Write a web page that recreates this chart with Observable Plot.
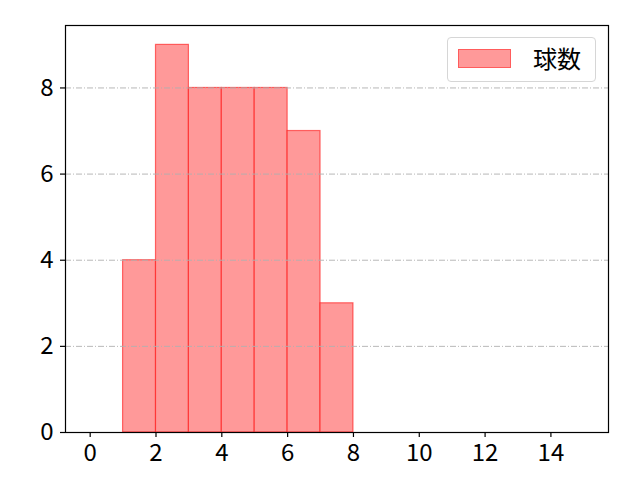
<!DOCTYPE html>
<html>
<head>
<meta charset="utf-8">
<script src="https://cdn.jsdelivr.net/npm/d3@7"></script>
<script src="https://cdn.jsdelivr.net/npm/@observablehq/plot@0.6"></script>
<style>
  html, body { margin: 0; padding: 0; background: #fff; }
  #wrap { position: relative; width: 640px; height: 480px; font-family: "Noto Sans CJK JP", "Noto Sans", sans-serif; }
  #legend { position: absolute; left: 447px; top: 37px; width: 149px; height: 45px; border: 1px solid #d6d6d6; border-radius: 4px; background: rgba(255,255,255,0.8); box-sizing: border-box; }
  #legend .sw { position: absolute; left: 10px; top: 11px; width: 53px; height: 19px; background: #ff9999; border: 1px solid rgba(255,0,0,0.4); box-sizing: border-box; }
  #legend .lb { position: absolute; left: 85px; top: 2px; font-size: 24px; line-height: 36px; color: #000; }
</style>
</head>
<body>
<div id="wrap"></div>
<script>
const binStarts = [0, 1, 2, 3, 4, 5, 6, 7];
const binEnds   = [1, 2, 3, 4, 5, 6, 7, 8];
const counts    = [0, 4, 9, 8, 8, 8, 7, 3];
const seriesName = "球数";
const xTicks = [0, 2, 4, 6, 8, 10, 12, 14];
const yTicks = [0, 2, 4, 6, 8];
const gridValues = [2, 4, 6, 8];

const bins = binStarts.map((s, i) => ({x1: s, x2: binEnds[i], y: counts[i]}));

const chart = Plot.plot({
  width: 640,
  height: 480,
  marginLeft: 65,
  marginRight: 32,
  marginTop: 25,
  marginBottom: 48,
  style: {fontFamily: "'Noto Sans CJK JP', 'Noto Sans', sans-serif", fontSize: "24px", color: "#000", background: "#fff"},
  x: {domain: [-0.75, 15.75], label: null},
  y: {domain: [0, 9.45], label: null},
  marks: [
    Plot.rectY(bins, {x1: "x1", x2: "x2", y: "y", fill: "#ff9999", stroke: "rgba(255,0,0,0.55)", strokeWidth: 1.2, inset: 0}),
    Plot.ruleY(gridValues, {stroke: "#b0b0b0", strokeWidth: 0.9, strokeDasharray: "6,2,1,2"}),
    Plot.frame({stroke: "#000", strokeWidth: 1.2}),
    Plot.axisX({ticks: xTicks, tickSize: 5, tickPadding: 6, strokeWidth: 1.2, fontSize: 24, tickFormat: d => String(d), label: null}),
    Plot.axisY({ticks: yTicks, tickSize: 5, tickPadding: 7, strokeWidth: 1.2, fontSize: 24, tickFormat: d => String(d), label: null})
  ]
});

const wrap = document.getElementById("wrap");
wrap.appendChild(chart);
const legend = document.createElement("div");
legend.id = "legend";
legend.innerHTML = '<div class="sw"></div><div class="lb"></div>';
legend.querySelector(".lb").textContent = seriesName;
wrap.appendChild(legend);
</script>
</body>
</html>
